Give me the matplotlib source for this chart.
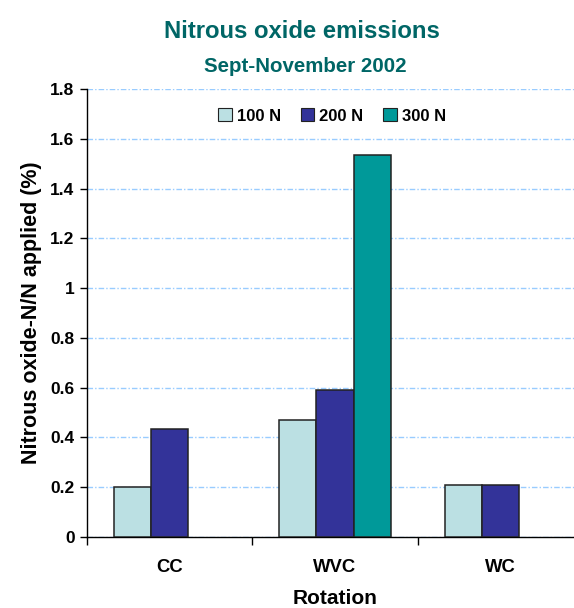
import numpy as np
import matplotlib
matplotlib.use('Agg')
import matplotlib.pyplot as plt

plt.rcParams['font.family'] = ['Liberation Sans', 'DejaVu Sans']
plt.rcParams['font.weight'] = 'bold'

rotations = ['CC', 'WVC', 'WC']
series_names = ['100 N', '200 N', '300 N']
n100 = [0.20, 0.47, 0.21]
n200 = [0.435, 0.59, 0.21]
n300 = [0.0, 1.535, 0.0]
yticks = [0, 0.2, 0.4, 0.6, 0.8, 1, 1.2, 1.4, 1.6, 1.8]
ytick_labels = ['0', '0.2', '0.4', '0.6', '0.8', '1', '1.2', '1.4', '1.6', '1.8']

colors = ['#BBE0E3', '#333399', '#009999']
title_color = '#006666'

W, H = 574, 608
fig = plt.figure(figsize=(W / 100, H / 100), dpi=100)
# axes run a little past the right edge, like the original sheet
ax = fig.add_axes([87 / W, (H - 537) / H, (583 - 87) / W, (537 - 89) / H])

x = np.arange(len(rotations))
bw = 0.224
for i, (vals, name) in enumerate(zip([n100, n200, n300], series_names)):
    xs, vs = [], []
    for xi, v in zip(x, vals):
        if v > 0:
            xs.append(xi + (i - 1) * bw)
            vs.append(v)
    ax.bar(xs, vs, width=bw, color=colors[i], edgecolor='#222222',
           linewidth=1.1, label=name, zorder=3)

ax.set_xlim(-0.5, len(rotations) - 0.5)
ax.set_ylim(0, 1.8)
ax.set_yticks(yticks)
ax.set_yticklabels(ytick_labels)
ax.yaxis.grid(True, color='#99CCFF', linestyle=(0, (4, 1.5, 1, 1.5)),
              linewidth=1.0, zorder=0)
ax.set_axisbelow(True)

ax.set_xticks(x)
ax.set_xticklabels(rotations)
ax.set_xticks(np.arange(len(rotations)) - 0.5, minor=True)
ax.tick_params(axis='x', which='major', length=0, pad=16, labelsize=13.3)
ax.tick_params(axis='x', which='minor', length=6, width=1, direction='out')
ax.tick_params(axis='y', length=5, width=1, direction='out', labelsize=12.5, pad=4)

for s in ['top', 'right']:
    ax.spines[s].set_visible(False)
ax.spines['left'].set_linewidth(1)
ax.spines['bottom'].set_linewidth(1)

ax.set_xlabel('Rotation', fontsize=15, fontweight='bold', labelpad=9)
ax.set_ylabel('Nitrous oxide-N/N applied (%)', fontsize=15.5, fontweight='bold', labelpad=6)

fig.text(302 / W, 1 - 31 / H, 'Nitrous oxide emissions', ha='center', va='center',
         fontsize=17.2, fontweight='bold', color=title_color)
fig.text(305 / W, 1 - 67 / H, 'Sept-November 2002', ha='center', va='center',
         fontsize=14.8, fontweight='bold', color=title_color)

leg = ax.legend(loc='center', bbox_to_anchor=(332 / W, 1 - 116 / H),
                bbox_transform=fig.transFigure, ncol=3, frameon=False,
                fontsize=12, handlelength=0.8, handleheight=0.8,
                handletextpad=0.3, columnspacing=1.2)
for p in leg.get_patches():
    p.set_linewidth(0.8)

fig.savefig('out.png', dpi=100)
